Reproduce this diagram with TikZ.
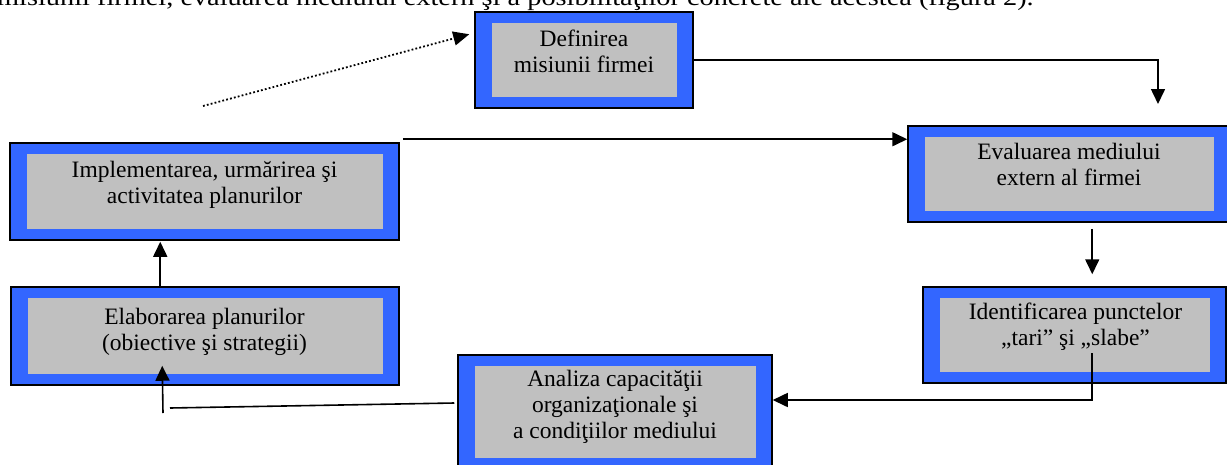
\documentclass[tikz,border=0pt]{standalone}
\usepackage{fontspec}
\setmainfont{Liberation Serif}
\usetikzlibrary{arrows.meta,calc}
\definecolor{boxblue}{RGB}{51,102,255}
\definecolor{boxgray}{RGB}{192,192,192}
\begin{document}
\begin{tikzpicture}[x=1pt,y=-1pt,
  stage/.style={draw=black, line width=1.5pt, fill=boxblue, inner sep=0pt,
    path picture={\fill[boxgray]
      ($(path picture bounding box.south west)+(16.5,-11)$) rectangle
      ($(path picture bounding box.north east)+(-16.5,11)$);}},
  lbl/.style={align=center, inner sep=0pt, font=\fontsize{23.5}{26}\selectfont},
  conn/.style={line width=1.6pt},
  arr/.style={conn, -{Triangle[length=15pt,width=14pt]}},
  dotarr/.style={line width=1.8pt, dash pattern=on 1.8pt off 2.2pt,
    -{Triangle[length=16pt,width=14pt]}}]
\useasboundingbox (0,0) rectangle (1227,464);
\clip (0,0) rectangle (1227,464);

% running text of the page, cut by the top edge
\node[anchor=base west, inner sep=0pt, font=\fontsize{24}{28}\selectfont] (para) at (-3,5)
  {\scalebox{1.18}[1]{misiunii firmei, evaluarea mediului extern şi a posibilităţilor concrete ale acestea (figura 2).}};

% stages
\node[stage, minimum width=218pt, minimum height=96pt] (b1) at (584,60) {};
\node[stage, minimum width=389pt, minimum height=97pt] (b2) at (204.5,191.5) {};
\node[stage, minimum width=322pt, minimum height=96pt] (b3) at (1069,174) {};
\node[stage, minimum width=303pt, minimum height=96pt] (b4) at (1074.5,335) {};
\node[stage, minimum width=388pt, minimum height=98pt] (b5) at (205,336) {};
\node[stage, minimum width=314pt, minimum height=114pt] (b6) at (615,412) {};

% stage captions (anchored on the baseline of their last line)
\node[lbl, anchor=base] (t1) at (584,72) {Definirea\\misiunii firmei};
\node[lbl, anchor=base] (t2) at (204.5,203) {Implementarea, urmărirea şi\\activitatea planurilor};
\node[lbl, anchor=base] (t3) at (1069,185) {Evaluarea mediului\\extern al firmei};
\node[lbl, anchor=base] (t4) at (1075.5,345) {Identificarea punctelor\\„tari” şi „slabe”};
\node[lbl, anchor=base] (t5) at (204.5,350) {Elaborarea planurilor\\(obiective şi strategii)};
\node[lbl, anchor=base] (t6) at (615,438) {Analiza capacităţii\\organizaţionale şi\\a condiţiilor mediului};

% connectors
\coordinate (d0) at (203,106);
\draw[dotarr] (d0) -- ($(b1.north west)+(-5,23)$);

\coordinate (c1) at (1158,104);
\draw[arr] (b1.east) -| (c1);

\draw[arr] ($(b2.north east)+(3,-3)$) -- ($(b3.north west)+(0,14)$);

\draw[arr] ($(b3.south west)+(185,6)$) -- ($(b4.north west)+(170,-12)$);

\coordinate (c4) at ($(b4.north west)+(170,67)$);
\draw[arr] (c4) |- ($(b6.east)+(0,-12)$);

\coordinate (c5) at (170,408);
\draw[conn] ($(b6.west)+(-3,-9)$) -- (c5);
\coordinate (c6) at (163,413);
\draw[arr] (c6) -- ($(b5.south west)+(152,-20)$);

\draw[arr] ($(b5.north west)+(150,0)$) -- ($(b2.south west)+(151,1)$);
\end{tikzpicture}
\end{document}
